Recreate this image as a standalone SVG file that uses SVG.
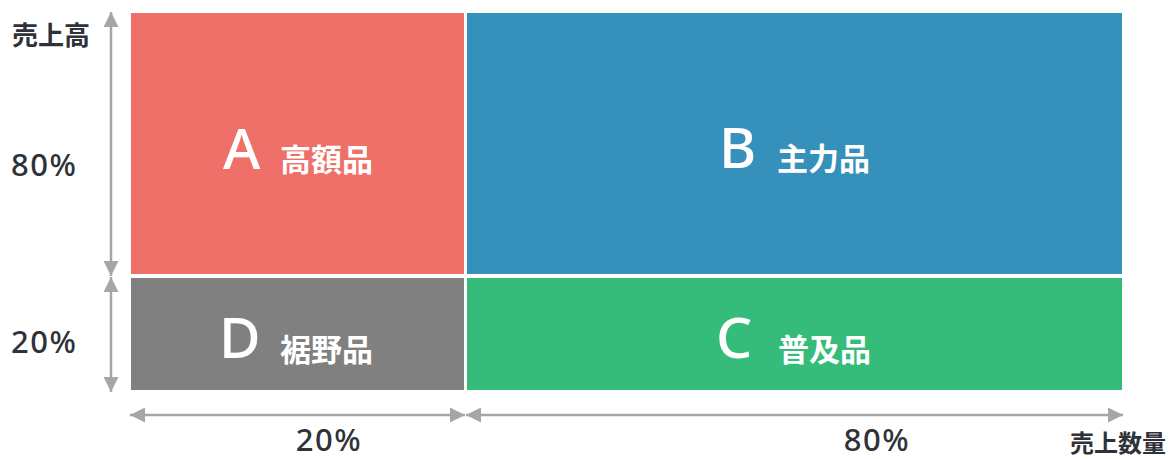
<svg xmlns="http://www.w3.org/2000/svg" width="1174" height="459" viewBox="0 0 1174 459">
<style>
.t{font-family:"Noto Sans","Noto Sans CJK JP",sans-serif;fill:#2f3238}
.lbl{font-family:"Noto Sans","Noto Sans CJK JP",sans-serif;fill:#ffffff}
.big{font-size:57px;font-weight:500}
.jp{font-family:"Noto Sans CJK JP",sans-serif;font-size:31px;font-weight:700}
.pct{font-size:31px;font-weight:500;letter-spacing:1.5px}
.ax{font-family:"Noto Sans CJK JP",sans-serif;font-weight:700}
.arr{stroke:#a6a6a6;stroke-width:2.5;fill:none;marker-start:url(#ah);marker-end:url(#ah)}
</style>
<defs>
<marker id="ah" markerUnits="userSpaceOnUse" viewBox="0 0 10 10" markerWidth="15" markerHeight="15" refX="10" refY="5" orient="auto-start-reverse">
<path d="M0,0 L10,5 L0,10 z" fill="#a6a6a6"/>
</marker>
</defs>
<rect width="1174" height="459" fill="#ffffff"/>
<g id="nodeA">
<rect x="131" y="13" width="333" height="261" fill="#ee7068"/>
<text class="lbl big" x="223" y="169">A</text>
<text class="lbl jp" x="280" y="171">高額品</text>
</g>
<g id="nodeB">
<rect x="467" y="13" width="655" height="261" fill="#3590bb"/>
<text class="lbl big" x="719" y="168">B</text>
<text class="lbl jp" x="777" y="170">主力品</text>
</g>
<g id="nodeD">
<rect x="131" y="278" width="333" height="112" fill="#808080"/>
<text class="lbl big" x="219" y="358">D</text>
<text class="lbl jp" x="280" y="361">裾野品</text>
</g>
<g id="nodeC">
<rect x="467" y="278" width="655" height="112" fill="#35bb7a"/>
<text class="lbl big" x="716" y="358">C</text>
<text class="lbl jp" x="778" y="361">普及品</text>
</g>
<g id="connectors">
<line class="arr" x1="111" y1="12" x2="111" y2="276"/>
<line class="arr" x1="111" y1="277" x2="111" y2="392"/>
<line class="arr" x1="130" y1="415" x2="465" y2="415"/>
<line class="arr" x1="466" y1="415" x2="1123" y2="415"/>
</g>
<g id="labels">
<text class="t ax" x="12" y="45" font-size="26">売上高</text>
<text class="t pct" x="11" y="176">80%</text>
<text class="t pct" x="11" y="353">20%</text>
<text class="t pct" x="329" y="451" text-anchor="middle">20%</text>
<text class="t pct" x="877" y="451" text-anchor="middle">80%</text>
<text class="t ax" x="1070" y="452" font-size="24">売上数量</text>
</g>
</svg>
